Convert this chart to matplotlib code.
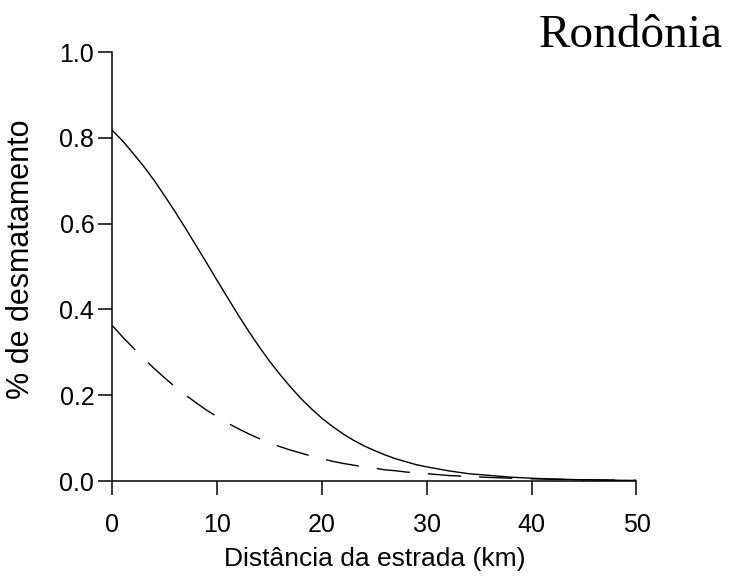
import matplotlib
matplotlib.use('Agg')
import matplotlib.pyplot as plt

# Distance from the road (km) and deforestation fraction
dist_km = [0, 1, 2, 3, 4, 5, 6, 7, 8, 9, 10, 11, 12, 13, 14, 15, 16, 17, 18, 19,
           20, 21, 22, 23, 24, 25, 26, 27, 28, 29, 30, 32, 34, 36, 38, 40, 42,
           44, 46, 48, 50]
solid_pct = [0.817, 0.792, 0.763, 0.733, 0.700, 0.664, 0.627, 0.588, 0.548,
             0.508, 0.467, 0.427, 0.387, 0.349, 0.313, 0.279, 0.248, 0.219,
             0.192, 0.168, 0.146, 0.127, 0.110, 0.095, 0.082, 0.071, 0.061,
             0.052, 0.045, 0.038, 0.033, 0.024, 0.017, 0.013, 0.009, 0.0065,
             0.0047, 0.0034, 0.0025, 0.0018, 0.0013]
dashed_pct = [0.362, 0.335, 0.310, 0.285, 0.262, 0.240, 0.219, 0.200, 0.182,
              0.165, 0.150, 0.135, 0.122, 0.110, 0.099, 0.089, 0.080, 0.072,
              0.065, 0.058, 0.052, 0.046, 0.041, 0.037, 0.033, 0.030, 0.026,
              0.024, 0.021, 0.019, 0.017, 0.013, 0.0105, 0.0083, 0.0066,
              0.0052, 0.0041, 0.0033, 0.0026, 0.0021, 0.0016]

x_ticks = [0, 10, 20, 30, 40, 50]
y_ticks = [0.0, 0.2, 0.4, 0.6, 0.8, 1.0]
y_tick_labels = ['0.0', '0.2', '0.4', '0.6', '0.8', '1.0']

plt.rcParams['font.family'] = ['Liberation Sans', 'DejaVu Sans']

fig = plt.figure(figsize=(7.31, 5.76), dpi=100)
ax = fig.add_axes([0.1538, 0.1649, 0.7169, 0.7448])

ax.plot(dist_km, solid_pct, color='black', lw=1.0)
ax.plot(dist_km, dashed_pct, color='black', lw=1.0, dashes=(24, 13))

ax.set_xlim(0, 50)
ax.set_ylim(0, 1.0)
ax.set_xticks(x_ticks)
ax.set_yticks(y_ticks)
ax.set_yticklabels(y_tick_labels)

for side in ['top', 'right']:
    ax.spines[side].set_visible(False)
for side in ['left', 'bottom']:
    ax.spines[side].set_linewidth(1.1)

ax.tick_params(axis='both', direction='out', length=10, width=1.1, labelsize=18)
ax.tick_params(axis='x', pad=13)
ax.tick_params(axis='y', pad=3)

ax.set_xlabel('Distância da estrada (km)', fontsize=19)
ax.set_ylabel('% de desmatamento', fontsize=22)
# place labels where they sit in the original
ax.xaxis.set_label_coords(0.5, -0.154)
ax.yaxis.set_label_coords(-0.145, 0.517)

fig.text(0.988, 0.918, 'Rondônia', family='Liberation Serif', fontsize=34,
         ha='right', va='baseline')

fig.savefig('out.png', dpi=100)
